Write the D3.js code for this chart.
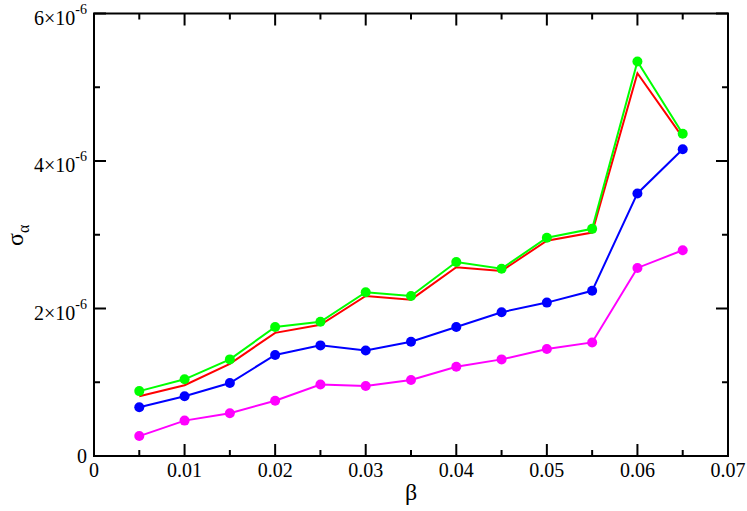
<!DOCTYPE html>
<html>
<head>
<meta charset="utf-8">
<script src="https://cdn.jsdelivr.net/npm/d3@7"></script>
<style>
  html, body { margin: 0; padding: 0; background: #fff; }
  svg { display: block; }
</style>
</head>
<body>
<div id="chart"></div>
<script>
// beta values along the x axis
const beta = [0.005, 0.01, 0.015, 0.02, 0.025, 0.03, 0.035, 0.04, 0.045, 0.05, 0.055, 0.06, 0.065];

// sigma_alpha, in units of 1e-6
const greenVals   = [0.88, 1.04, 1.31, 1.75, 1.82, 2.22, 2.17, 2.63, 2.54, 2.96, 3.08, 5.35, 4.37];
const redVals     = [0.81, 0.96, 1.25, 1.67, 1.78, 2.17, 2.12, 2.56, 2.51, 2.92, 3.03, 5.19, 4.32];
const blueVals    = [0.66, 0.81, 0.99, 1.37, 1.50, 1.43, 1.55, 1.75, 1.95, 2.08, 2.24, 3.56, 4.16];
const magentaVals = [0.27, 0.48, 0.58, 0.75, 0.97, 0.95, 1.03, 1.21, 1.31, 1.45, 1.54, 2.55, 2.79];

const xTicks = [0, 0.01, 0.02, 0.03, 0.04, 0.05, 0.06, 0.07];
const xTickLabels = ['0', '0.01', '0.02', '0.03', '0.04', '0.05', '0.06', '0.07'];
const xMinor = [0.005, 0.015, 0.025, 0.035, 0.045, 0.055, 0.065];
const yTicks = [0, 2e-6, 4e-6, 6e-6];
const yTickMantissa = ['0', '2\u00d710', '4\u00d710', '6\u00d710'];
const yMinor = [1e-6, 3e-6, 5e-6];

const series = [
  { name: 'magenta', values: magentaVals, color: '#ff00ff', markers: true },
  { name: 'blue', values: blueVals, color: '#0000ff', markers: true },
  { name: 'red', values: redVals, color: '#ff0000', markers: false },
  { name: 'green', values: greenVals, color: '#00ff00', markers: true },
];

const width = 747;
const height = 511;
const margin = { top: 13.5, right: 19, bottom: 55, left: 94 };
const serif = '"Liberation Serif", "Times New Roman", Times, "DejaVu Serif", serif';

const svg = d3.select('#chart').append('svg')
  .attr('width', width)
  .attr('height', height)
  .attr('font-family', serif);

const x = d3.scaleLinear()
  .domain([0, 0.07])
  .range([margin.left, width - margin.right]);

const y = d3.scaleLinear()
  .domain([0, 6e-6])
  .range([height - margin.bottom, margin.top]);

// ticks on all four sides, pointing inward
const ticks = svg.append('g').attr('stroke', '#000').attr('stroke-width', 2);
const major = 12, minor = 6;
xTicks.forEach((t) => {
  ticks.append('line').attr('x1', x(t)).attr('x2', x(t)).attr('y1', y(0)).attr('y2', y(0) - major);
  ticks.append('line').attr('x1', x(t)).attr('x2', x(t)).attr('y1', y(6e-6)).attr('y2', y(6e-6) + major);
});
xMinor.forEach((t) => {
  ticks.append('line').attr('x1', x(t)).attr('x2', x(t)).attr('y1', y(0)).attr('y2', y(0) - minor);
  ticks.append('line').attr('x1', x(t)).attr('x2', x(t)).attr('y1', y(6e-6)).attr('y2', y(6e-6) + minor);
});
yTicks.forEach((t) => {
  ticks.append('line').attr('x1', x(0)).attr('x2', x(0) + major).attr('y1', y(t)).attr('y2', y(t));
  ticks.append('line').attr('x1', x(0.07)).attr('x2', x(0.07) - major).attr('y1', y(t)).attr('y2', y(t));
});
yMinor.forEach((t) => {
  ticks.append('line').attr('x1', x(0)).attr('x2', x(0) + minor).attr('y1', y(t)).attr('y2', y(t));
  ticks.append('line').attr('x1', x(0.07)).attr('x2', x(0.07) - minor).attr('y1', y(t)).attr('y2', y(t));
});

// frame
svg.append('rect')
  .attr('x', x(0))
  .attr('y', y(6e-6))
  .attr('width', x(0.07) - x(0))
  .attr('height', y(0) - y(6e-6))
  .attr('fill', 'none')
  .attr('stroke', '#000')
  .attr('stroke-width', 2);

// x tick labels
svg.append('g').selectAll('text')
  .data(xTicks)
  .join('text')
  .attr('x', (d) => x(d))
  .attr('y', y(0) + 21)
  .attr('text-anchor', 'middle')
  .attr('font-size', 20)
  .text((d, i) => xTickLabels[i]);

// y tick labels (mantissa x 10^-6)
const yLab = svg.append('g');
yTicks.forEach((t, i) => {
  if (t === 0) {
    yLab.append('text')
      .attr('x', 87)
      .attr('y', y(t) + 7)
      .attr('text-anchor', 'end')
      .attr('font-size', 20)
      .text('0');
    return;
  }
  const txt = yLab.append('text')
    .attr('x', 87)
    .attr('y', y(t) + 11)
    .attr('text-anchor', 'end')
    .attr('font-size', 20);
  txt.append('tspan').text(yTickMantissa[i]);
  txt.append('tspan')
    .attr('dy', -11)
    .attr('font-size', 14)
    .text('-6');
});

// series
const line = d3.line()
  .x((d, i) => x(beta[i]))
  .y((d) => y(d * 1e-6));

series.forEach((s) => {
  const g = svg.append('g').attr('class', 'series-' + s.name);
  g.append('path')
    .datum(s.values)
    .attr('d', line)
    .attr('fill', 'none')
    .attr('stroke', s.color)
    .attr('stroke-width', 2);
  if (s.markers) {
    g.selectAll('circle')
      .data(s.values)
      .join('circle')
      .attr('cx', (d, i) => x(beta[i]))
      .attr('cy', (d) => y(d * 1e-6))
      .attr('r', 5)
      .attr('fill', s.color);
  }
});

// axis titles
svg.append('text')
  .attr('x', (x(0) + x(0.07)) / 2)
  .attr('y', 500)
  .attr('text-anchor', 'middle')
  .attr('font-size', 24)
  .text('\u03b2');

const yTitle = svg.append('text')
  .attr('transform', 'translate(23, 246) rotate(-90)')
  .attr('text-anchor', 'start')
  .attr('font-size', 24);
yTitle.append('tspan').text('\u03c3');
yTitle.append('tspan')
  .attr('dy', 6)
  .attr('font-size', 16)
  .text('\u03b1');
</script>
</body>
</html>
